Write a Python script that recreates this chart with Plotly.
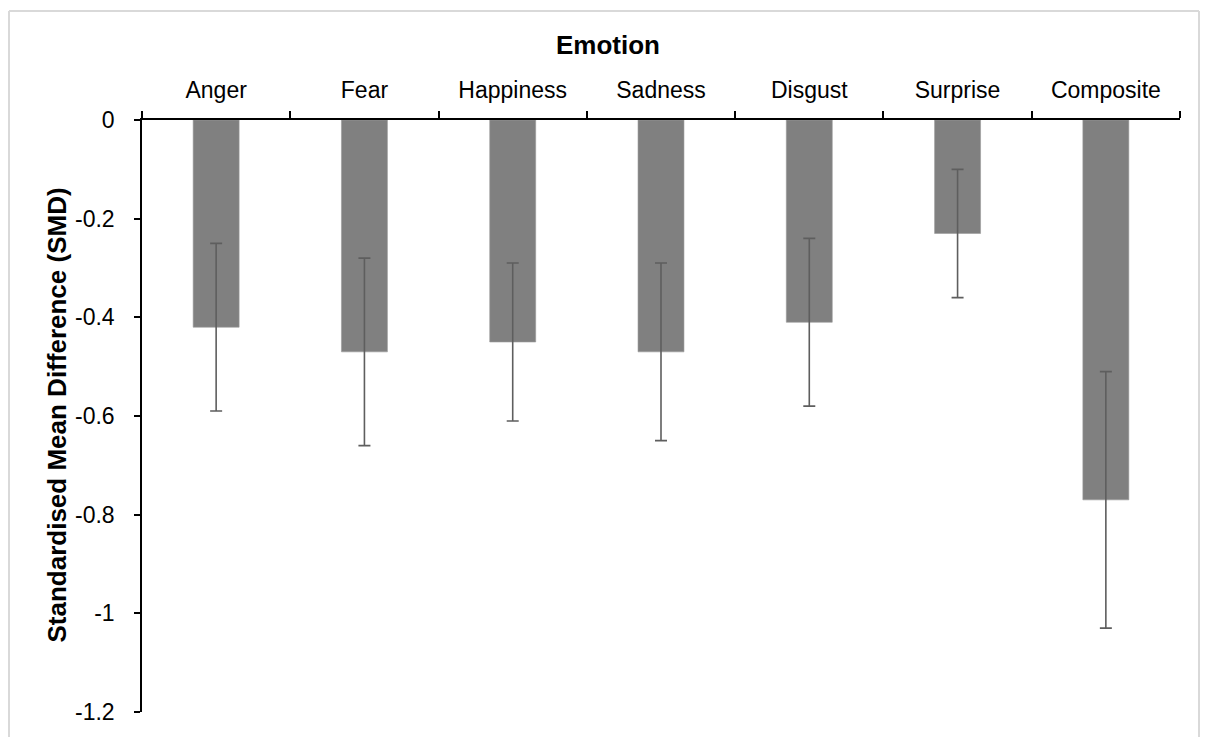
import plotly.graph_objects as go

emotions = ["Anger", "Fear", "Happiness", "Sadness", "Disgust", "Surprise", "Composite"]
smd = [-0.42, -0.47, -0.45, -0.47, -0.41, -0.23, -0.77]
ci_upper = [-0.25, -0.28, -0.29, -0.29, -0.24, -0.10, -0.51]
ci_lower = [-0.59, -0.66, -0.61, -0.65, -0.58, -0.36, -1.03]
y_tickvals = [0, -0.2, -0.4, -0.6, -0.8, -1.0, -1.2]
y_ticktext = ["0", "-0.2", "-0.4", "-0.6", "-0.8", "-1", "-1.2"]

err_plus = [u - m for u, m in zip(ci_upper, smd)]
err_minus = [m - l for m, l in zip(smd, ci_lower)]

# page body has an 8px margin; keep the figure a little shorter so the page does not overflow
OFF = 8
W, H = 1208 - 2 * OFF, 749 - 2 * OFF - 4
L, T = 142 - OFF, 120 - OFF
R = W - (1180 - OFF)
B = H - (723 - OFF)
pw, ph = W - L - R, H - T - B


def px_x(p):
    return (p - OFF - L) / pw


def px_y(p):
    return (H - B - (p - OFF)) / ph


FONT = "Liberation Sans, Arial, sans-serif"
TICK_SIZE = 23
TITLE_SIZE = 26

fig = go.Figure(
    go.Bar(
        x=emotions,
        y=smd,
        width=0.31,
        marker=dict(color="#808080", line=dict(color="#9a9a9a", width=0.6)),
        error_y=dict(
            type="data",
            symmetric=False,
            array=err_plus,
            arrayminus=err_minus,
            color="#5e5e5e",
            thickness=1.6,
            width=6,
        ),
    )
)

fig.update_layout(
    width=W,
    height=H,
    margin=dict(l=L, r=R, t=T, b=B, pad=0),
    paper_bgcolor="white",
    plot_bgcolor="white",
    showlegend=False,
    font=dict(family=FONT, size=TICK_SIZE, color="black"),
    xaxis=dict(
        side="top",
        type="category",
        range=[-0.5, 6.5],
        showline=True,
        linecolor="black",
        linewidth=1.5,
        ticks="outside",
        tickson="boundaries",
        ticklen=7,
        tickwidth=1.5,
        tickcolor="black",
        ticklabelstandoff=11,
        showgrid=False,
        zeroline=False,
        tickfont=dict(size=TICK_SIZE),
    ),
    yaxis=dict(
        range=[-1.2, 0],
        tickvals=y_tickvals,
        ticktext=y_ticktext,
        showline=True,
        linecolor="black",
        linewidth=1.5,
        ticks="outside",
        ticklen=6,
        tickwidth=1.5,
        tickcolor="black",
        ticklabelstandoff=15,
        ticklabeloverflow="allow",
        showgrid=False,
        zeroline=False,
        tickfont=dict(size=TICK_SIZE),
    ),
    annotations=[
        dict(
            text="<b>Emotion</b>",
            xref="paper", yref="paper",
            x=px_x(608), y=px_y(44),
            xanchor="center", yanchor="middle",
            showarrow=False,
            font=dict(size=TITLE_SIZE, family=FONT),
        ),
        dict(
            text="<b>Standardised Mean Difference (SMD)</b>",
            xref="paper", yref="paper",
            x=px_x(57), y=px_y(421),
            xanchor="center", yanchor="middle",
            textangle=-90,
            showarrow=False,
            font=dict(size=TITLE_SIZE, family=FONT),
        ),
    ],
    shapes=[
        dict(type="line", xref="paper", yref="paper",
             x0=px_x(9), x1=px_x(9), y0=px_y(760), y1=px_y(9),
             line=dict(color="#d9d9d9", width=2), layer="below"),
        dict(type="line", xref="paper", yref="paper",
             x0=px_x(9), x1=px_x(1199), y0=px_y(9), y1=px_y(9),
             line=dict(color="#d9d9d9", width=2), layer="below"),
        dict(type="line", xref="paper", yref="paper",
             x0=px_x(1199), x1=px_x(1199), y0=px_y(760), y1=px_y(9),
             line=dict(color="#d9d9d9", width=2), layer="below"),
    ],
)

fig.write_html("out.html", config={"displayModeBar": False})
